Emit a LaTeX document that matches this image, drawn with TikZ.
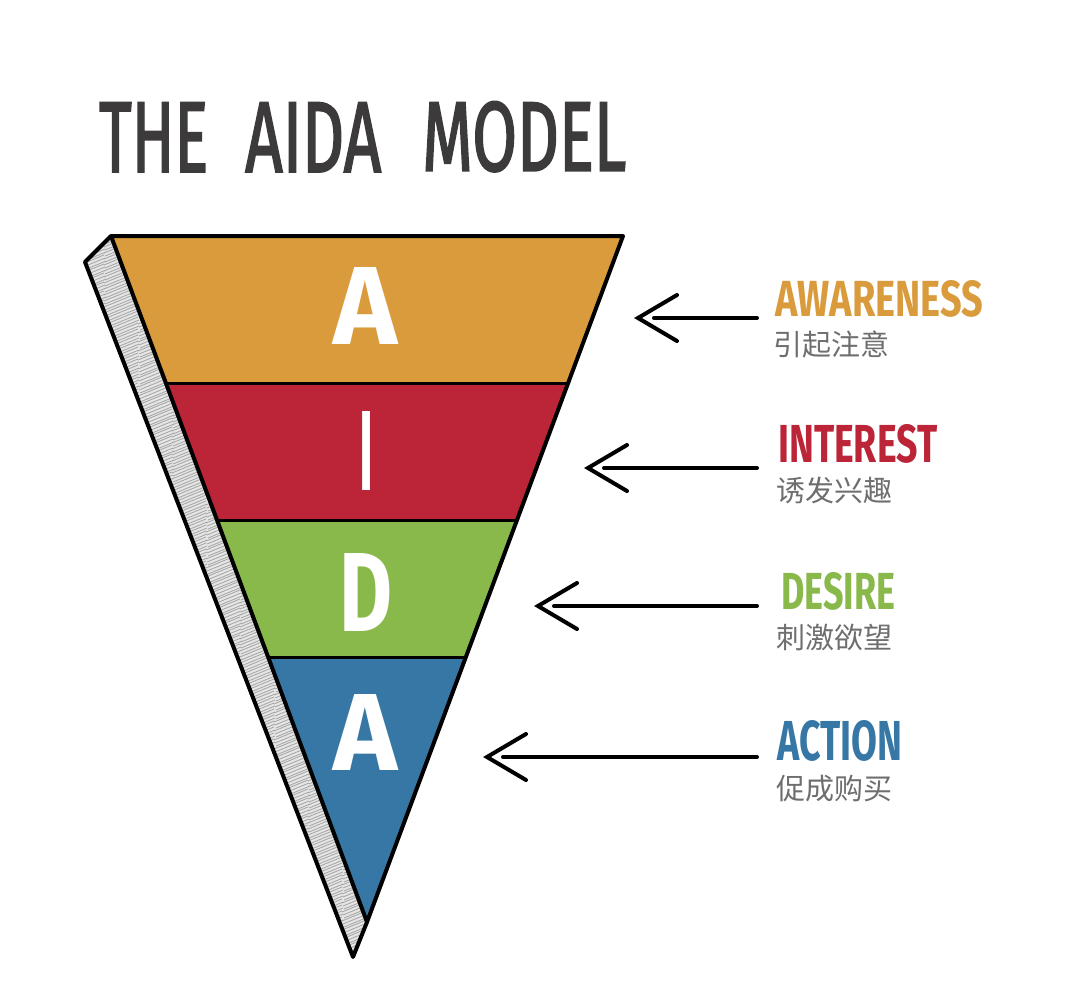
\documentclass[tikz,border=0pt]{standalone}
\usepackage{fontspec}
\setmainfont{Fira Sans}
\newfontfamily\titlef[FakeBold=2.2]{Fira Sans}
\newfontfamily\cjk{Noto Sans CJK SC}
\usepackage{graphicx}
\usetikzlibrary{calc}
\definecolor{cA}{HTML}{D99B3C}
\definecolor{cI}{HTML}{BC2537}
\definecolor{cD}{HTML}{8AB94B}
\definecolor{cN}{HTML}{3677A5}
\definecolor{titlec}{HTML}{3C3A3B}
\definecolor{cjkc}{HTML}{6E6E6E}
\definecolor{hatchbg}{HTML}{E6E6E6}
\definecolor{hatchln}{HTML}{A8A8A8}
\newcommand{\fitbox}[3]{\resizebox{#1pt}{#2pt}{#3}}
\begin{document}
\begin{tikzpicture}[x=1pt,y=-1pt,
  outline/.style={draw=black,line width=4pt,line join=round},
  divider/.style={draw=black,line width=3pt},
  arr/.style={line width=4pt,line cap=round,line join=miter,draw=black},
  fitlbl/.style={inner sep=0pt,anchor=south west},
  cjklbl/.style={inner sep=0pt,anchor=base west,text height=22pt,text depth=3pt,text=cjkc,font=\cjk\fontsize{29}{29}\selectfont},
  bigletter/.style={inner sep=0pt,anchor=south west,text=white,font=\bfseries}]
\useasboundingbox[fill=white] (0,0) rectangle (1080,996);
% key points
\coordinate (tl) at (111,236);
\coordinate (tr) at (623,236);
\coordinate (apex) at (367,922);
\coordinate (so) at (85,262);
\coordinate (sb) at (353,957);
% shadow strip
\begin{scope}
  \clip (tl) -- (so) -- (sb) -- (apex) -- cycle;
  \fill[hatchbg] (60,220) rectangle (400,980);
  \foreach \k in {0,...,250} {
    \draw[hatchln,line width=0.9pt] ({70+mod(\k,3)},{215+\k*3}) -- ++(34,-14);
    \draw[hatchln,line width=0.9pt] ({104+mod(\k,2)},{229+\k*3}) -- ++(34,-14);
    \draw[hatchln,line width=0.9pt] ({138+mod(\k,3)},{243+\k*3}) -- ++(34,-14);
    \draw[hatchln,line width=0.9pt] ({172+mod(\k,2)},{257+\k*3}) -- ++(34,-14);
    \draw[hatchln,line width=0.9pt] ({206+mod(\k,3)},{271+\k*3}) -- ++(34,-14);
    \draw[hatchln,line width=0.9pt] ({240+mod(\k,2)},{285+\k*3}) -- ++(34,-14);
    \draw[hatchln,line width=0.9pt] ({274+mod(\k,3)},{299+\k*3}) -- ++(34,-14);
    \draw[hatchln,line width=0.9pt] ({308+mod(\k,2)},{313+\k*3}) -- ++(34,-14);
    \draw[hatchln,line width=0.9pt] ({342+mod(\k,3)},{327+\k*3}) -- ++(34,-14);
  }
\end{scope}
\draw[outline] (tl) -- (so) -- (sb) -- (apex);
% bands
\fill[cA] (tl) -- (tr) -- (568.1,383) -- (165.9,383) -- cycle;
\fill[cI] (165.9,383) -- (568.1,383) -- (517,520) -- (217,520) -- cycle;
\fill[cD] (217,520) -- (517,520) -- (465.9,657) -- (268.1,657) -- cycle;
\fill[cN] (268.1,657) -- (465.9,657) -- (apex) -- cycle;
\draw[divider] (165.9,383) -- (568.1,383);
\draw[divider] (217,520) -- (517,520);
\draw[divider] (268.1,657) -- (465.9,657);
\draw[outline] (tl) -- (tr) -- (apex) -- cycle;
% big letters
\node[bigletter] (bA) at (333,345) {\fitbox{64}{77}{A}};
\node[bigletter] (bI) at (359,491) {\fitbox{14}{79}{I}};
\node[bigletter] (bD) at (339,632) {\fitbox{53}{78}{D}};
\node[bigletter] (bN) at (333,771) {\fitbox{64}{76}{A}};
% title
\node[fitlbl,text=titlec,font=\titlef] (t1) at (99,172) {\fitbox{109}{69}{THE}};
\node[fitlbl,text=titlec,font=\titlef] (t2) at (245,172) {\fitbox{136}{69}{AIDA}};
\node[fitlbl,text=titlec,font=\titlef] (t3) at (422,172) {\fitbox{204}{69}{MODEL}};
% labels
\node[fitlbl,text=cA,font=\bfseries] (lA) at (775,318) {\fitbox{208}{36}{AWARENESS}};
\node[cjklbl] (cA1) at (773,355) {引起注意};
\node[fitlbl,text=cI,font=\bfseries] (lI) at (778,464) {\fitbox{159}{38}{INTEREST}};
\node[cjklbl] (cI1) at (776,501) {诱发兴趣};
\node[fitlbl,text=cD,font=\bfseries] (lD) at (781,611) {\fitbox{114}{37}{DESIRE}};
\node[cjklbl] (cD1) at (776,648.5) {刺激欲望};
\node[fitlbl,text=cN,font=\bfseries] (lN) at (777,762) {\fitbox{125}{40}{ACTION}};
\node[cjklbl] (cN1) at (776,799.5) {促成购买};
% arrows
\foreach \n/\yy/\tip in {1/318/638, 2/468/588, 3/606/538, 4/757/487} {
  \coordinate (tail\n) at (757,\yy);
  \coordinate (shaft\n) at ({\tip+16},\yy);
  \coordinate (head\n) at (\tip,\yy);
  \draw[arr] (tail\n) -- (shaft\n);
  \draw[arr] ($(head\n)+(39,-23)$) -- (head\n) -- ($(head\n)+(39,23)$);
}
\end{tikzpicture}
\end{document}
